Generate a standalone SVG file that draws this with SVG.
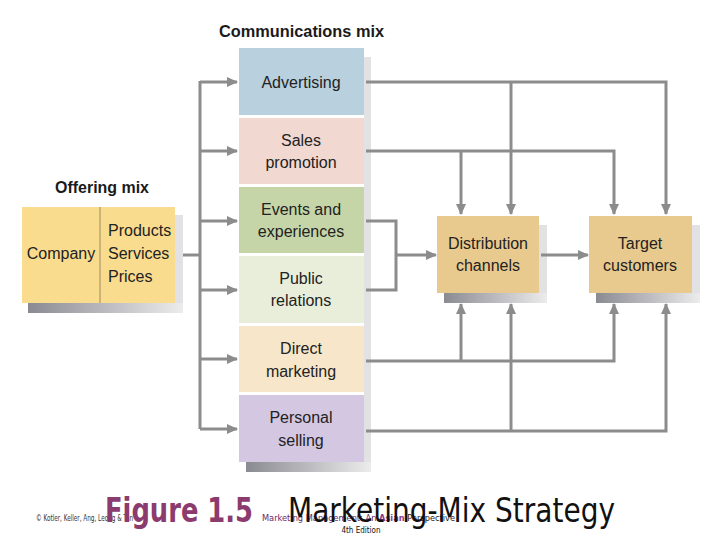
<svg xmlns="http://www.w3.org/2000/svg" width="720" height="540" viewBox="0 0 720 540">
<style>
.t{font-family:"Liberation Sans",Arial,sans-serif;font-size:16px;fill:#222;text-anchor:middle}
.h{font-family:"Liberation Sans",Arial,sans-serif;font-size:17px;font-weight:bold;fill:#1a1a1a}
.c{fill:none;stroke:#8c8c8c;stroke-width:3}
.a{marker-end:url(#arr)}
.sr{fill:#e2e2e4}
.sm{font-family:"DejaVu Sans Condensed","DejaVu Sans",sans-serif;font-size:8px}
.big{font-family:"DejaVu Sans Condensed","DejaVu Sans",sans-serif;font-size:33px}
</style>
<defs>
<marker id="arr" markerUnits="userSpaceOnUse" markerWidth="12" markerHeight="10" refX="10" refY="5" orient="auto">
<path d="M0,0 L11,5 L0,10 Z" fill="#8c8c8c"/>
</marker>
<linearGradient id="sb" x1="0" y1="0" x2="1" y2="0">
<stop offset="0" stop-color="#8a8a92"/>
<stop offset="1" stop-color="#ececec"/>
</linearGradient>
</defs>
<rect width="720" height="540" fill="#fff"/>

<text class="h" x="219" y="37" textLength="165" lengthAdjust="spacingAndGlyphs">Communications mix</text>
<text class="h" x="55" y="193" textLength="94" lengthAdjust="spacingAndGlyphs">Offering mix</text>

<g id="offering">
<rect class="sr" x="175" y="215" width="8" height="98"/>
<rect x="28" y="303" width="155" height="10" fill="url(#sb)"/>
<rect x="22" y="207" width="153" height="96" fill="#f9dc8e"/>
<line x1="100" y1="207" x2="100" y2="303" stroke="#a08a60" stroke-width="1"/>
<text class="t" x="61" y="259">Company</text>
<text class="t" x="108" y="236" style="text-anchor:start">Products</text>
<text class="t" x="108" y="259" style="text-anchor:start">Services</text>
<text class="t" x="108" y="282" style="text-anchor:start">Prices</text>
</g>

<g id="stack-shadow">
<rect class="sr" x="364" y="57" width="7" height="415"/>
<rect x="246" y="462" width="125" height="10" fill="url(#sb)"/>
</g>
<g id="advertising">
<rect x="239" y="48" width="125" height="67" fill="#b9d0de"/>
<text class="t" x="301" y="88">Advertising</text>
</g>
<g id="sales-promotion">
<rect x="239" y="118" width="125" height="66" fill="#f1d8d1"/>
<text class="t" x="301" y="146">Sales</text>
<text class="t" x="301" y="168">promotion</text>
</g>
<g id="events">
<rect x="239" y="187" width="125" height="66" fill="#c6d5a8"/>
<text class="t" x="301" y="215">Events and</text>
<text class="t" x="301" y="237">experiences</text>
</g>
<g id="public-relations">
<rect x="239" y="256" width="125" height="67" fill="#e9eedb"/>
<text class="t" x="301" y="284">Public</text>
<text class="t" x="301" y="306">relations</text>
</g>
<g id="direct-marketing">
<rect x="239" y="326" width="125" height="66" fill="#f7e6c9"/>
<text class="t" x="301" y="354">Direct</text>
<text class="t" x="301" y="377">marketing</text>
</g>
<g id="personal-selling">
<rect x="239" y="395" width="125" height="67" fill="#d4c7e2"/>
<text class="t" x="301" y="423">Personal</text>
<text class="t" x="301" y="446">selling</text>
</g>

<g id="distribution">
<rect class="sr" x="539" y="225" width="8" height="78"/>
<rect x="444" y="293" width="103" height="10" fill="url(#sb)"/>
<rect x="437" y="216" width="102" height="77" fill="#e9ca8e"/>
<text class="t" x="488" y="249">Distribution</text>
<text class="t" x="488" y="271">channels</text>
</g>
<g id="target">
<rect class="sr" x="692" y="225" width="8" height="78"/>
<rect x="596" y="293" width="104" height="10" fill="url(#sb)"/>
<rect x="589" y="216" width="103" height="77" fill="#e9ca8e"/>
<text class="t" x="640" y="249">Target</text>
<text class="t" x="640" y="271">customers</text>
</g>

<g id="connectors">
<path class="c" d="M183,255 H200"/>
<path class="c" d="M200,81 V429"/>
<path class="c a" d="M200,82 H237"/>
<path class="c a" d="M200,151 H237"/>
<path class="c a" d="M200,221 H237"/>
<path class="c a" d="M200,290 H237"/>
<path class="c a" d="M200,359 H237"/>
<path class="c a" d="M200,429 H237"/>

<path class="c a" d="M366,82 H666 V214"/>
<path class="c a" d="M511,82 V214"/>
<path class="c a" d="M366,151 H614 V214"/>
<path class="c a" d="M461,151 V214"/>

<path class="c" d="M366,221 H396 V290 H366"/>
<path class="c a" d="M396,255 H436"/>
<path class="c a" d="M541,255 H588"/>

<path class="c a" d="M366,361 H614 V304"/>
<path class="c a" d="M461,361 V304"/>
<path class="c a" d="M366,431 H666 V304"/>
<path class="c a" d="M511,431 V304"/>
</g>

<g id="footer">
<text class="sm" x="36" y="521" fill="#333" textLength="97" lengthAdjust="spacingAndGlyphs">© Kotler, Keller, Ang, Leong &amp; Tan</text>
<text class="sm" x="262" y="521" textLength="193" lengthAdjust="spacingAndGlyphs"><tspan fill="#6a2a6a">Marketing Management: An </tspan><tspan fill="#8c3b8e" font-weight="bold">Asian</tspan><tspan fill="#222"> Perspective</tspan></text>
<text class="sm" x="361" y="533" fill="#111" text-anchor="middle">4th Edition</text>
<text class="big" x="105" y="522" fill="#8c3b6e" font-weight="bold" textLength="148" lengthAdjust="spacingAndGlyphs">Figure 1.5</text>
<text class="big" x="288" y="522" fill="#111" textLength="327" lengthAdjust="spacingAndGlyphs">Marketing-Mix Strategy</text>
</g>
</svg>
